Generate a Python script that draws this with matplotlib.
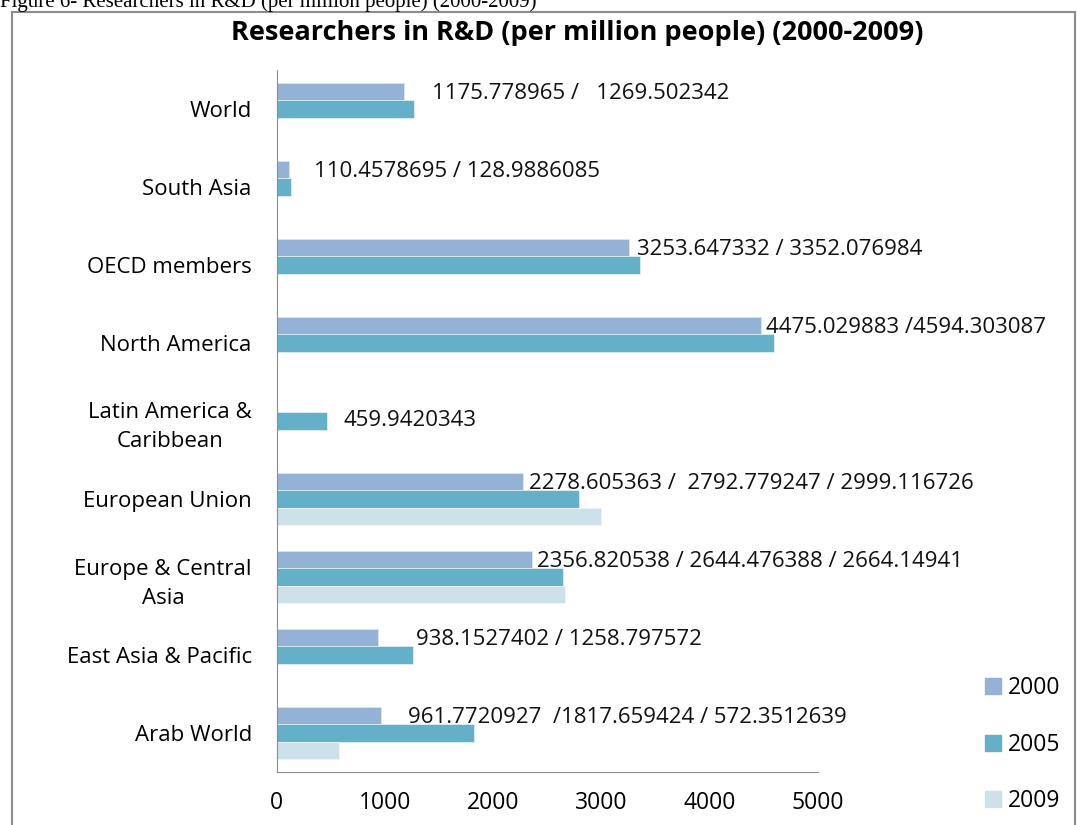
import numpy as np
import matplotlib.pyplot as plt
from matplotlib.patches import Rectangle, Patch

plt.rcParams['font.family'] = ['Open Sans', 'DejaVu Sans']

categories = ['Arab World', 'East Asia & Pacific', 'Europe & Central\nAsia', 'European Union',
              'Latin America &\nCaribbean', 'North America', 'OECD members', 'South Asia', 'World']
v2000 = [961.7720927, 938.1527402, 2356.820538, 2278.605363, np.nan, 4475.029883, 3253.647332, 110.4578695, 1175.778965]
v2005 = [1817.659424, 1258.797572, 2644.476388, 2792.779247, 459.9420343, 4594.303087, 3352.076984, 128.9886085, 1269.502342]
v2009 = [572.3512639, np.nan, 2664.14941, 2999.116726, np.nan, np.nan, np.nan, np.nan, np.nan]
labels = ['961.7720927  /1817.659424 / 572.3512639',
          '938.1527402 / 1258.797572',
          '2356.820538 / 2644.476388 / 2664.14941',
          '2278.605363 /  2792.779247 / 2999.116726',
          '459.9420343',
          '4475.029883 /4594.303087',
          '3253.647332 / 3352.076984',
          '110.4578695 / 128.9886085',
          '1175.778965 /   1269.502342']
# where each label starts (data units), as placed by hand in the original
label_x = [1215, 1290, 2400, 2328, 612, 4518, 3330, 343, 1430]

c2000 = '#94B2D6'
c2005 = '#63B0C8'
c2009 = '#CCE1EA'

fig = plt.figure(figsize=(10.77, 8.25), dpi=100)
ax = fig.add_axes([0.257, 0.0642, 0.5025, 0.851])

y = np.arange(len(categories))
h = 0.22
ax.barh(y + h, v2000, height=h, color=c2000, edgecolor='#DCE6F0', linewidth=0.6, label='2000')
ax.barh(y, v2005, height=h, color=c2005, edgecolor='#DCEFF4', linewidth=0.6, label='2005')
ax.barh(y - h, v2009, height=h, color=c2009, edgecolor='#EEF5F8', linewidth=0.6, label='2009')

for i in range(len(categories)):
    ty = y[i] + h * 0.9 if not np.isnan(v2000[i]) else y[i]
    ax.text(label_x[i], ty, labels[i], fontsize=16, va='center', ha='left', color='#111111')

ax.set_xlim(0, 5000)
ax.set_ylim(-0.5, len(categories) - 0.5)
ax.set_xticks([0, 1000, 2000, 3000, 4000, 5000])
ax.set_yticks(y)
ax.set_yticklabels(categories, multialignment='center', linespacing=1.5)
ax.tick_params(axis='y', length=0, pad=18, labelsize=16)
ax.tick_params(axis='x', length=0, pad=14, labelsize=16.5)
for s in ['top', 'right']:
    ax.spines[s].set_visible(False)
for s in ['left', 'bottom']:
    ax.spines[s].set_color('#8C8C8C')

fig.text(0.536, 0.96, 'Researchers in R&D (per million people) (2000-2009)',
         ha='center', va='center', fontsize=19.5, fontweight='bold')
fig.text(0.0, 0.997, 'Figure 6- Researchers in R&D (per million people) (2000-2009)',
         ha='left', va='center', fontsize=15, family=['Liberation Serif'])

fig.patches.append(Rectangle((12 / 1077, -0.05), (1075 - 12) / 1077, 1.05 - 12 / 825,
                             transform=fig.transFigure, fill=False, edgecolor='#8C8C8C', linewidth=1.5))

handles = [Patch(color=c2000), Patch(color=c2005), Patch(color=c2009)]
fig.legend(handles, ['2000', '2005', '2009'], loc='lower left', bbox_to_anchor=(0.895, -0.01),
           frameon=False, fontsize=16.5, labelspacing=1.4, handlelength=0.7, handleheight=0.7,
           handletextpad=0.3)

fig.savefig('out.png', dpi=100)
